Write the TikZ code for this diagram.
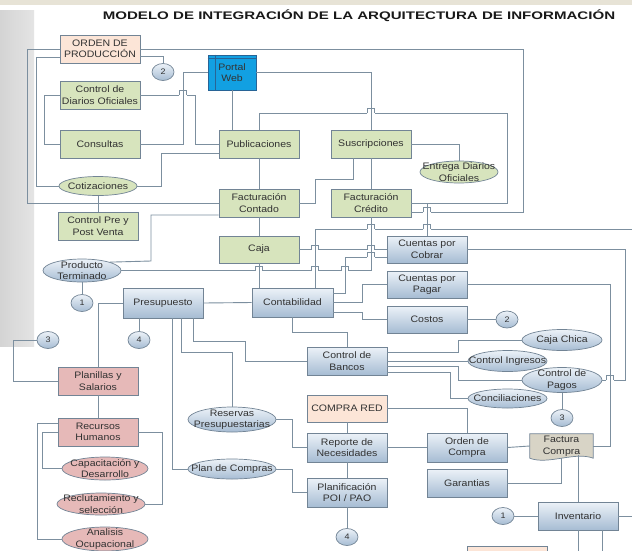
\documentclass[tikz,border=0pt]{standalone}
\usepackage{fontspec}
\setmainfont{Liberation Sans}[FakeStretch=1.12]
\newfontfamily\titlefont{Liberation Sans}[FakeStretch=1.37]
\usepackage{xcolor}
\usepackage{tikz}
\usetikzlibrary{shapes.geometric, calc, backgrounds}
\definecolor{linecol}{RGB}{124,143,159}
\definecolor{boxline}{RGB}{114,132,149}
\definecolor{txtcol}{RGB}{50,50,50}
\definecolor{greenfill}{RGB}{215,228,189}
\definecolor{peachfill}{RGB}{252,229,215}
\definecolor{pinkfill}{RGB}{230,185,184}
\definecolor{bluetop}{RGB}{236,242,248}
\definecolor{bluebot}{RGB}{166,188,211}
\definecolor{portalfill}{RGB}{18,160,226}
\definecolor{portalline}{RGB}{40,100,150}
\definecolor{docfill}{RGB}{216,212,198}
\definecolor{stripcol}{RGB}{231,227,214}
\definecolor{panelL}{RGB}{212,212,212}
\definecolor{panelR}{RGB}{228,228,228}
\tikzstyle{box} = [rectangle, draw=boxline, line width=0.7pt, minimum width=80, minimum height=28, inner sep=2pt, align=center, text=txtcol]
\tikzstyle{greenbox} = [box, fill=greenfill]
\tikzstyle{peachbox} = [box, fill=peachfill]
\tikzstyle{pinkbox} = [box, fill=pinkfill]
\tikzstyle{bluebox} = [box, top color=bluetop, bottom color=bluebot]
\tikzstyle{portalbox} = [box, fill=portalfill, draw=portalline, minimum width=48, minimum height=35, text=black!80]
\tikzstyle{docnode} = [rectangle, minimum width=63, minimum height=24, inner sep=1pt, align=center, text=txtcol]
\tikzstyle{docshape} = [draw=boxline, line width=0.7pt, fill=docfill]
\tikzstyle{oval} = [ellipse, draw=boxline, line width=0.7pt, inner sep=0pt]
\tikzstyle{greenoval} = [oval, fill=greenfill]
\tikzstyle{pinkoval} = [oval, fill=pinkfill]
\tikzstyle{blueoval} = [oval, top color=bluetop, bottom color=bluebot]
\tikzstyle{numcirc} = [blueoval, minimum width=22, minimum height=17, text=txtcol, font=\fontsize{8}{9}\selectfont]
\tikzstyle{titletext} = [font=\titlefont\bfseries\fontsize{11}{13}\selectfont, text=black!90]
\tikzstyle{link} = [draw=linecol, line width=0.9pt]
\tikzset{linejump/.pic={
    \fill [white] (-3.6,-1.2) rectangle (3.6,1.2);
    \draw [link] (0,-2.6) -- (0,2.6);
    \draw [link] (-3.5,0) -- (-3.5,-4.5) -- (3.5,-4.5) -- (3.5,0);
}}

\begin{document}
\begin{tikzpicture}[x=1pt, y=-1pt, font=\fontsize{9.4}{11.5}\selectfont, every label/.style={align=center, inner sep=0pt, text=txtcol}]
        \useasboundingbox (0,0) rectangle (632,550);

        % Title and sales block
        \node (title) [titletext] at (359,16) {MODELO DE INTEGRACIÓN DE LA ARQUITECTURA DE INFORMACIÓN};
        \node (orden) [peachbox] at (100,49) {ORDEN DE\\PRODUCCIÓN};
        \node (n2a) [numcirc] at (163,72) {2};
        \node (portal) [portalbox] at (232,72.5) {Portal\\Web};
        \node (cdo) [greenbox] at (100,95) {Control de\\Diarios Oficiales};
        \node (consultas) [greenbox] at (100,144) {Consultas};
        \node (publi) [greenbox] at (259,144) {Publicaciones};
        \node (suscr) [greenbox] at (371,144) {Suscripciones};
        \node (entrega) [greenoval, minimum width=78, minimum height=22, label={center:Entrega Diarios\\Oficiales}] at (459,172) {};
        \node (cotiz) [greenoval, minimum width=78, minimum height=19, label={center:Cotizaciones}] at (98,186) {};
        \node (fcont) [greenbox] at (259,203) {Facturación\\Contado};
        \node (fcred) [greenbox] at (371,203) {Facturación\\Crédito};
        \node (cpv) [greenbox] at (98,226) {Control Pre y\\Post Venta};
        \node (caja) [greenbox, minimum height=27] at (259,249.5) {Caja};

        % Accounting block
        \node (pterm) [blueoval, minimum width=78, minimum height=23, label={center:Producto\\Terminado}] at (82,270.5) {};
        \node (n1a) [numcirc] at (82,303) {1};
        \node (presup) [bluebox, minimum height=30] at (163,303) {Presupuesto};
        \node (conta) [bluebox, minimum width=81, minimum height=29] at (292.5,302.5) {Contabilidad};
        \node (n3a) [numcirc] at (48,340) {3};
        \node (n4a) [numcirc] at (139,340) {4};
        \node (ccob) [bluebox, minimum height=27] at (427,249.5) {Cuentas por\\Cobrar};
        \node (cpag) [bluebox, minimum height=27] at (427,284.5) {Cuentas por\\Pagar};
        \node (costos) [bluebox, minimum height=27] at (427,319.5) {Costos};
        \node (n2b) [numcirc] at (507,319.5) {2};
        \node (cbancos) [bluebox] at (347,361) {Control de\\Bancos};
        \node (cchica) [blueoval, minimum width=80, minimum height=21, label={center:Caja Chica}] at (562,340) {};
        \node (cingr) [blueoval, minimum width=79, minimum height=21, label={center:Control Ingresos}] at (507.5,361) {};
        \node (cpagos) [blueoval, minimum width=80, minimum height=25, label={center:Control de\\Pagos}] at (562,380) {};
        \node (concil) [blueoval, minimum width=79, minimum height=19, label={center:Conciliaciones}] at (507.5,398.5) {};
        \node (n3b) [numcirc] at (562,418) {3};

        % Purchasing block
        \node (reservas) [blueoval, minimum width=88, minimum height=25, label={center:Reservas\\Presupuestarias}] at (232,419.5) {};
        \node (plancomp) [blueoval, minimum width=88, minimum height=20, label={center:Plan de Compras}] at (232,469) {};
        \node (compra) [peachbox, minimum height=27] at (347,408.5) {COMPRA RED};
        \node (reporte) [bluebox, minimum height=29] at (347,447.5) {Reporte de\\Necesidades};
        \node (ocompra) [bluebox, minimum height=29] at (467,447.5) {Orden de\\Compra};
        \node (factura) [docnode] at (561.5,446) {Factura\\Compra};
        \node (garant) [bluebox] at (467,483) {Garantias};
        \node (planif) [bluebox, minimum height=29] at (347,492.5) {Planificación\\POI / PAO};
        \node (n4b) [numcirc] at (347,537) {4};
        \node (n1b) [numcirc] at (503,516) {1};
        \node (invent) [bluebox] at (578,516) {Inventario};
        \node (siguiente) [peachbox, anchor=north] at (507,546) {};

        % Human resources block
        \node (planillas) [pinkbox] at (98,381) {Planillas y\\Salarios};
        \node (rrhh) [pinkbox] at (98,432) {Recursos\\Humanos};
        \node (capac) [pinkoval, minimum width=86, minimum height=23, label={center:Capacitación y\\Desarrollo}] at (105,468.5) {};
        \node (reclut) [pinkoval, minimum width=88, minimum height=22, label={center:Reclutamiento y\\selección}] at (101,504) {};
        \node (analisis) [pinkoval, minimum width=86, minimum height=24, label={center:Analisis\\Ocupacional}] at (105,539) {};

        % Free ends at the border
        \coordinate (edgeE) at (632,229);
        \coordinate (edgeI) at (632,516);

        % Portal Web inner lines
        \draw [portalline, line width=0.6pt] ([xshift=8pt]portal.north west) -- ([xshift=8pt]portal.south west);
        \draw [portalline, line width=0.6pt] ([yshift=-4pt]portal.north west) -- ([yshift=-4pt]portal.north east);

        % Links - sales
        \draw [link] (orden.west) -| (27,203) -- (fcont.west);
        \draw [link] ([yshift=-8pt]orden.west) -| (36,186) -- (cotiz.west);
        \draw [link] (orden.east) -| (523,212) -- ([yshift=-9pt]fcred.east);
        \draw [link] ([yshift=-7pt]orden.east) -| (n2a.north);
        \draw [link] (cdo.west) -| (44,144) -- (consultas.west);
        \draw [link] (cdo.east) -| (195,144) -- (publi.west);
        \draw [link] (portal.west) -| (183,144) -- (consultas.east);
        \draw [link] (portal.south) -- (portal.south |- publi.north);
        \draw [link] (portal.east) -| (suscr.north);
        \draw [link] (publi.north) |- (507,113) |- (fcred.east);
        \draw [link] ([yshift=-9pt]publi.west) -| (161,186) -- (cotiz.east);
        \draw [link] (publi.south) -- (fcont.north);
        \draw [link] (cotiz.south) -- (cpv.north);
        \draw [link] (suscr.east) -| (entrega.north);
        \draw [link] ([xshift=-18pt]suscr.south) |- (315,179) |- (fcont.east);
        \draw [link] (suscr.south) -- (fcred.north);
        \draw [link] (ccob.north) |- (fcred.east);
        \draw [link] (fcont.south) -- (caja.north);
        \draw [link] ([yshift=-12pt]fcont.west) -| (151,261) -- (pterm.north east);

        % Links - accounting
        \draw [link] (caja.east) -- (ccob.west);
        \draw [link] (caja.south) -- (caja.south |- conta.north);
        \draw [link] ([xshift=22.5pt]conta.north) |- (edgeE);
        \draw [link] (pterm.east) -| (fcred.south);
        \draw [link] ([yshift=9.5pt]conta.east) -| (345,257) -- ([yshift=-7.5pt]ccob.west);
        \draw [link] (conta.east) -| (362,284.5) -- (cpag.west);
        \draw [link] ([yshift=-10pt]conta.east) -| (362,319.5) -- (costos.west);
        \draw [link] (costos.east) -- (n2b.west);
        \draw [link] (ccob.east) -| (625,380) -- (cpagos.east);
        \draw [link] (cpag.east) -| (610,446) -- (factura.east);
        \draw [link] (conta.south) -- ++(0,15) -| (cbancos.north);
        \draw [link] (presup.east) -- (conta.west);

        % Links - budget
        \draw [link] (presup.west) -| (planillas.north);
        \draw [link] (pterm.south) -- (n1a.north);
        \draw [link] ([xshift=-24pt]presup.south) -- (n4a.north);
        \draw [link] ([xshift=9pt]presup.south) |- (plancomp.west);
        \draw [link] ([xshift=18pt]presup.south) |- (232,352) -- (reservas.north);
        \draw [link] ([xshift=30pt]presup.south) -- ++(0,23) -| (245,361) -- (cbancos.west);

        % Links - banks
        \draw [link] ([yshift=9pt]cbancos.east) -| (458,340) -- (cchica.west);
        \draw [link] (cbancos.east) -- (cingr.west);
        \draw [link] ([yshift=-5pt]cbancos.east) -| (458,380) -- (cpagos.west);
        \draw [link] ([yshift=-11pt]cbancos.east) -| (450,398.5) -- (concil.west);
        \draw [link] (cpagos.south) -- (n3b.north);

        % Links - human resources
        \draw [link] (n3a.west) -| (13,381) -- (planillas.west);
        \draw [link] (planillas.south) -- (rrhh.north);
        \draw [link] ([yshift=9pt]rrhh.west) -| (37,539) -- (analisis.west);
        \draw [link] (rrhh.west) -| (42,468.5) -- (capac.west);
        \draw [link] (rrhh.east) -| (162,504) -- (reclut.east);

        % Links - purchasing
        \draw [link] (reservas.east) -| (292,447.5) -- (reporte.west);
        \draw [link] (plancomp.east) -| (292,492.5) -- (planif.west);
        \draw [link] (compra.south) -- (reporte.north);
        \draw [link] (reporte.south) -- (planif.north);
        \draw [link] (planif.south) -- (n4b.north);
        \draw [link] (compra.east) -| (ocompra.north);
        \draw [link] (reporte.east) -- (ocompra.west);
        \draw [link] (ocompra.east) -- (factura.west);
        \draw [link] (garant.east) -| (factura.south);
        \draw [link] (invent.north) -- ($(invent.north |- factura.south)+(0,-3)$);
        \draw [link] (n1b.east) -- (invent.west);
        \draw [link] (invent.east) -- (edgeI);
        \draw [link] (invent.south) -- ++(0,25);
        \draw [link] ([xshift=24pt]invent.south) -- ++(0,25);

        % Line jumps at crossings
        \pic at (183,95) {linejump};
        \pic at (371,113) {linejump};
        \pic at (427,212) {linejump};
        \pic at (371,229) {linejump};
        \pic at (427,229) {linejump};
        \pic at (315,249.5) {linejump};
        \pic at (371,249.5) {linejump};
        \pic at (371,257) {linejump};
        \pic at (259,270.5) {linejump};
        \pic at (315,270.5) {linejump};
        \pic at (345,270.5) {linejump};
        \pic at (610,380) {linejump};

        % Page backdrop and the document shape
        \begin{pgfonlayer}{background}
            \fill [white] (0,0) rectangle (632,550);
            \fill [stripcol] (0,0) rectangle (632,5);
            \shade [left color=panelL, right color=panelR] (0,10) rectangle (34,346);
            \filldraw [docshape] (factura.north west) -- (factura.north east) -- (factura.south east)
                .. controls +(-18,-7) and +(18,7) .. (factura.south west) -- cycle;
        \end{pgfonlayer}

\end{tikzpicture}
\end{document}
